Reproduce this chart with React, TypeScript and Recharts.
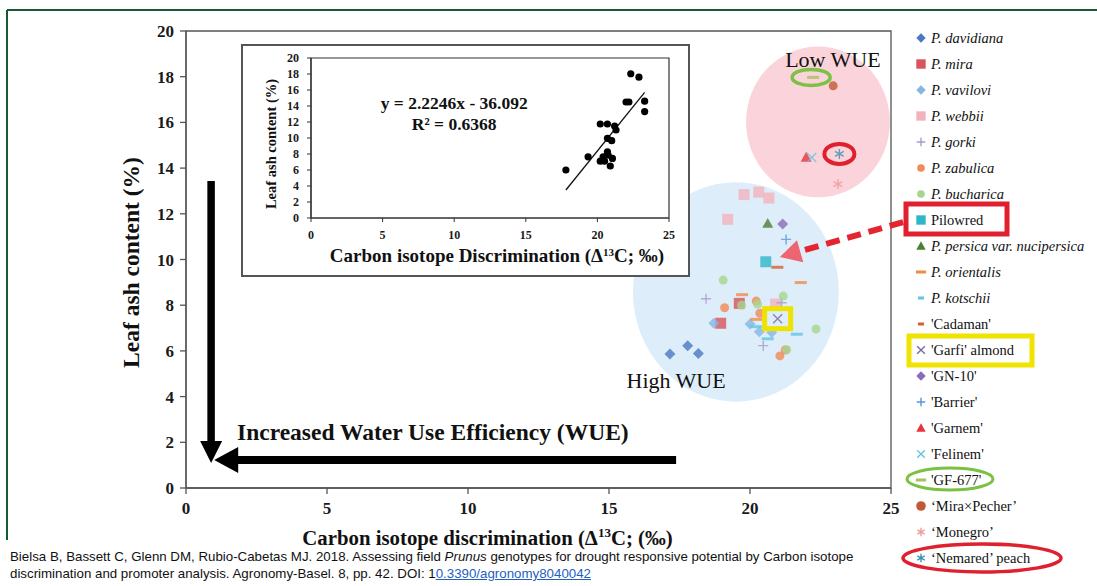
import {
  ReferenceArea,
  ReferenceDot,
  ReferenceLine,
  Scatter,
  ScatterChart,
  XAxis,
  YAxis,
} from "recharts";

type Pt = { x: number; y: number };
type Kind = "diamond" | "square" | "circle" | "triangle" | "plus" | "cross" | "dash" | "star";

const SERIF = "'Liberation Serif', 'Times New Roman', serif";
const SANS = "'Liberation Sans', Arial, sans-serif";

const W = 1097;
const H = 586;
// pixels per data unit in the main plot (705px for 25 units, 457px for 20 units)
const PX_X = 705 / 25;
const PX_Y = 457 / 20;

const xTicks = [0, 5, 10, 15, 20, 25];
const yTicks = [0, 2, 4, 6, 8, 10, 12, 14, 16, 18, 20];

// main scatter
const davidiana: Pt[] = [{ x: 17.16, y: 5.86 }, { x: 17.79, y: 6.23 }, { x: 18.17, y: 5.89 }];
const mira: Pt[] = [{ x: 19.62, y: 8.08 }, { x: 18.96, y: 7.21 }];
const vavilovi: Pt[] = [{ x: 18.72, y: 7.21 }, { x: 20.0, y: 7.18 }, { x: 20.33, y: 6.84 }, { x: 20.77, y: 6.8 }];
const webbii: Pt[] = [
  { x: 19.79, y: 12.84 }, { x: 20.31, y: 12.95 }, { x: 20.67, y: 12.69 }, { x: 19.21, y: 11.76 }, { x: 20.91, y: 8.05 },
];
const gorki: Pt[] = [{ x: 18.44, y: 8.28 }, { x: 21.12, y: 8.11 }, { x: 20.47, y: 6.23 }];
const zabulica: Pt[] = [
  { x: 19.1, y: 7.89 }, { x: 20.22, y: 8.18 }, { x: 20.35, y: 7.65 }, { x: 21.25, y: 6.04 }, { x: 21.06, y: 5.78 },
];
const bucharica: Pt[] = [
  { x: 19.05, y: 9.1 }, { x: 19.7, y: 8.0 }, { x: 20.27, y: 8.05 }, { x: 21.18, y: 8.4 }, { x: 22.34, y: 6.96 }, { x: 21.3, y: 6.05 },
];
const pilowred: Pt[] = [{ x: 20.56, y: 9.9 }];
const nucipersica: Pt[] = [{ x: 20.63, y: 11.58 }];
const orientalis: Pt[] = [{ x: 21.8, y: 8.99 }, { x: 19.72, y: 8.46 }, { x: 20.22, y: 7.38 }];
const kotschii: Pt[] = [{ x: 20.21, y: 7.06 }, { x: 20.63, y: 6.53 }, { x: 21.66, y: 6.73 }];
const cadaman: Pt[] = [{ x: 20.97, y: 9.66 }];
const garfi: Pt[] = [{ x: 20.98, y: 7.41 }];
const gn10: Pt[] = [{ x: 21.16, y: 11.55 }];
const barrier: Pt[] = [{ x: 21.28, y: 10.88 }];
const garnem: Pt[] = [{ x: 21.99, y: 14.47 }];
const felinem: Pt[] = [{ x: 22.19, y: 14.46 }];
const gf677: Pt[] = [{ x: 22.24, y: 17.97 }];
const miraPecher: Pt[] = [{ x: 22.95, y: 17.6 }];
const monegro: Pt[] = [{ x: 23.12, y: 13.3 }];
const nemared: Pt[] = [{ x: 23.17, y: 14.62 }];

// inset: pooled points and the fitted line as drawn
const insetPoints: Pt[] = [
  { x: 22.33, y: 18.03 }, { x: 22.9, y: 17.6 }, { x: 22.0, y: 14.5 }, { x: 22.2, y: 14.5 }, { x: 23.3, y: 14.6 },
  { x: 23.3, y: 13.3 }, { x: 20.2, y: 11.75 }, { x: 20.7, y: 11.75 }, { x: 21.2, y: 11.5 }, { x: 21.3, y: 11.0 },
  { x: 20.7, y: 9.96 }, { x: 21.0, y: 9.66 }, { x: 19.35, y: 7.65 }, { x: 20.7, y: 8.28 }, { x: 20.75, y: 7.87 },
  { x: 20.4, y: 7.65 }, { x: 20.2, y: 7.1 }, { x: 20.5, y: 7.1 }, { x: 21.05, y: 7.45 }, { x: 20.9, y: 6.5 },
  { x: 17.8, y: 6.0 },
];
const trendLine: Pt[] = [{ x: 17.8, y: 3.5 }, { x: 23.3, y: 15.7 }];

// annotation anchors (data units)
const lowWueCenter: Pt = { x: 22.41, y: 16.02 };
const highWueCenter: Pt = { x: 19.5, y: 8.58 };
const lowWueText: Pt = { x: 22.94, y: 18.42 };
const highWueText: Pt = { x: 17.38, y: 4.38 };
const wueText: Pt = { x: 1.81, y: 2.1 };
const downArrow: Pt[] = [{ x: 0.89, y: 13.44 }, { x: 0.89, y: 1.09 }];
const leftArrow: Pt[] = [{ x: 17.38, y: 1.23 }, { x: 1.0, y: 1.23 }];
const pilowredArrowTail: Pt = { x: 25.43, y: 11.64 };
const pilowredArrowTip: Pt = { x: 21.06, y: 10.11 };
const equationAnchor: Pt = { x: 10.0, y: 14.1 };

interface Series {
  name: string;
  italic: boolean;
  data: Pt[];
  color: string;
  kind: Kind;
  legendSize?: number;
}

const series: Series[] = [
  { name: "P. davidiana", italic: true, data: davidiana, color: "#4A78C2", kind: "diamond" },
  { name: "P. mira", italic: true, data: mira, color: "#D9535B", kind: "square" },
  { name: "P. vavilovi", italic: true, data: vavilovi, color: "#86B6E3", kind: "diamond" },
  { name: "P. webbii", italic: true, data: webbii, color: "#F2B3BC", kind: "square" },
  { name: "P. gorki", italic: true, data: gorki, color: "#A99BCB", kind: "plus" },
  { name: "P. zabulica", italic: true, data: zabulica, color: "#F28A55", kind: "circle" },
  { name: "P. bucharica", italic: true, data: bucharica, color: "#A8D48F", kind: "circle" },
  { name: "Pilowred", italic: false, data: pilowred, color: "#2FB6C9", kind: "square" },
  { name: "P. persica var. nucipersica", italic: true, data: nucipersica, color: "#4F7D33", kind: "triangle" },
  { name: "P. orientalis", italic: true, data: orientalis, color: "#F4894E", kind: "dash" },
  { name: "P. kotschii", italic: true, data: kotschii, color: "#67C4E4", kind: "dash", legendSize: 0.6 },
  { name: "'Cadaman'", italic: false, data: cadaman, color: "#D4622D", kind: "dash", legendSize: 0.6 },
  { name: "'Garfi' almond", italic: false, data: garfi, color: "#7C68A6", kind: "cross" },
  { name: "'GN-10'", italic: false, data: gn10, color: "#8B6BB5", kind: "diamond" },
  { name: "'Barrier'", italic: false, data: barrier, color: "#5C93DA", kind: "plus" },
  { name: "'Garnem'", italic: false, data: garnem, color: "#E4343E", kind: "triangle" },
  { name: "'Felinem'", italic: false, data: felinem, color: "#64C6DE", kind: "cross" },
  { name: "'GF-677'", italic: false, data: gf677, color: "#A4C262", kind: "dash" },
  { name: "\u2018Mira\u00d7Pecher\u2019", italic: false, data: miraPecher, color: "#C15A33", kind: "circle", legendSize: 1.25 },
  { name: "\u2018Monegro\u2019", italic: false, data: monegro, color: "#F19A9A", kind: "star" },
  { name: "\u2018Nemared\u2019 peach", italic: false, data: nemared, color: "#3A93AE", kind: "star" },
];

function Marker({
  kind,
  cx,
  cy,
  color,
  size = 1,
  opacity = 1,
}: {
  kind: Kind;
  cx: number;
  cy: number;
  color: string;
  size?: number;
  opacity?: number;
}) {
  const s = size;
  switch (kind) {
    case "diamond": {
      const d = 5.5 * s;
      return (
        <polygon
          points={`${cx},${cy - d} ${cx + d},${cy} ${cx},${cy + d} ${cx - d},${cy}`}
          fill={color}
          opacity={opacity}
        />
      );
    }
    case "square": {
      const h = 5.5 * s;
      return <rect x={cx - h} y={cy - h} width={2 * h} height={2 * h} fill={color} opacity={opacity} />;
    }
    case "circle":
      return <circle cx={cx} cy={cy} r={4.5 * s} fill={color} opacity={opacity} />;
    case "triangle": {
      const h = 5.5 * s;
      return (
        <polygon
          points={`${cx},${cy - h} ${cx + h},${cy + h * 0.8} ${cx - h},${cy + h * 0.8}`}
          fill={color}
          opacity={opacity}
        />
      );
    }
    case "plus": {
      const h = 5 * s;
      return (
        <path d={`M${cx - h},${cy}H${cx + h}M${cx},${cy - h}V${cy + h}`} stroke={color} strokeWidth={1.4} opacity={opacity} />
      );
    }
    case "cross": {
      const h = 4.5 * s;
      return (
        <path
          d={`M${cx - h},${cy - h}L${cx + h},${cy + h}M${cx - h},${cy + h}L${cx + h},${cy - h}`}
          stroke={color}
          strokeWidth={1.4}
          opacity={opacity}
        />
      );
    }
    case "dash": {
      const w = 6 * s;
      return <rect x={cx - w} y={cy - 1.5} width={2 * w} height={3} fill={color} opacity={opacity} />;
    }
    case "star": {
      const h = 5 * s;
      const a = h * 0.87;
      const b = h * 0.5;
      return (
        <path
          d={`M${cx},${cy - h}V${cy + h}M${cx - a},${cy - b}L${cx + a},${cy + b}M${cx - a},${cy + b}L${cx + a},${cy - b}`}
          stroke={color}
          strokeWidth={1.4}
          opacity={opacity}
        />
      );
    }
  }
  return null;
}

function drawArrow(
  x1: number,
  y1: number,
  x2: number,
  y2: number,
  shaft: number,
  headLen: number,
  headW: number,
  color: string,
  headColor: string,
  dash?: string,
) {
  const dx = x2 - x1;
  const dy = y2 - y1;
  const len = Math.hypot(dx, dy) || 1;
  const ux = dx / len;
  const uy = dy / len;
  const nx = -uy;
  const ny = ux;
  const bx = x2 - ux * headLen;
  const by = y2 - uy * headLen;
  return (
    <g>
      <line x1={x1} y1={y1} x2={bx + ux * 2} y2={by + uy * 2} stroke={color} strokeWidth={shaft} strokeDasharray={dash} />
      <polygon
        points={`${x2},${y2} ${bx + (nx * headW) / 2},${by + (ny * headW) / 2} ${bx - (nx * headW) / 2},${by - (ny * headW) / 2}`}
        fill={headColor}
      />
    </g>
  );
}

function arrowShape(shaft: number, headLen: number, headW: number, color: string) {
  return (p: any) => drawArrow(p.x1, p.y1, p.x2, p.y2, shaft, headLen, headW, color, color);
}

const mainTick = { fontFamily: SERIF, fontSize: 17, fontWeight: 700, fill: "#1a1a1a" };

function MainChart() {
  return (
    <ScatterChart width={W} height={H} margin={{ top: 31, right: 206, bottom: 68, left: 126 }}>
      <XAxis
        type="number"
        dataKey="x"
        domain={[0, 25]}
        ticks={xTicks}
        interval={0}
        height={30}
        tickSize={6}
        tickMargin={8}
        axisLine={{ stroke: "#555", strokeWidth: 1.3 }}
        tickLine={{ stroke: "#555", strokeWidth: 1.3 }}
        tick={mainTick}
        label={(p: any) => {
          const vb = p?.viewBox ?? { x: 186, y: 488, width: 705 };
          return (
            <text
              x={vb.x + vb.width / 2 - 51}
              y={vb.y + 57}
              textAnchor="middle"
              fontFamily={SERIF}
              fontSize={20.8}
              fontWeight={700}
              fill="#111"
            >
              Carbon isotope discrimination (Δ
              <tspan dy={-8} fontSize={13}>13</tspan>
              <tspan dy={8}>C; (‰)</tspan>
            </text>
          );
        }}
      />
      <YAxis
        type="number"
        dataKey="y"
        domain={[0, 20]}
        ticks={yTicks}
        interval={0}
        width={60}
        tickSize={6}
        tickMargin={6}
        axisLine={{ stroke: "#555", strokeWidth: 1.3 }}
        tickLine={{ stroke: "#555", strokeWidth: 1.3 }}
        tick={mainTick}
        label={(p: any) => {
          const vb = p?.viewBox ?? { x: 126, y: 31, height: 457 };
          const cx = vb.x + 13;
          const cy = vb.y + vb.height / 2 + 3;
          return (
            <text
              x={cx}
              y={cy}
              transform={`rotate(-90 ${cx} ${cy})`}
              textAnchor="middle"
              fontFamily={SERIF}
              fontSize={23.5}
              fontWeight={700}
              fill="#111"
            >
              Leaf ash content (%)
            </text>
          );
        }}
      />
      <ReferenceArea x1={0} x2={25} y1={0} y2={20} fill="none" stroke="#555" strokeWidth={1.3} ifOverflow="visible" />

      <Scatter
        name="low-wue-region"
        data={[lowWueCenter]}
        legendType="none"
        isAnimationActive={false}
        shape={(p: any) => <ellipse cx={p.cx} cy={p.cy} rx={2.55 * PX_X} ry={3.3 * PX_Y} fill="#FAD4DA" />}
      />
      <Scatter
        name="high-wue-region"
        data={[highWueCenter]}
        legendType="none"
        isAnimationActive={false}
        shape={(p: any) => <ellipse cx={p.cx} cy={p.cy} rx={3.65 * PX_X} ry={4.8 * PX_Y} fill="#DDEEFA" />}
      />

      <ReferenceLine segment={downArrow} ifOverflow="visible" shape={arrowShape(7.5, 22, 22, "#000")} />
      <ReferenceLine segment={leftArrow} ifOverflow="visible" shape={arrowShape(8, 24, 26, "#000")} />

      <ReferenceDot
        x={wueText.x}
        y={wueText.y}
        ifOverflow="visible"
        shape={(p: any) => (
          <text x={p.cx} y={p.cy} fontFamily={SERIF} fontSize={23.5} fontWeight={700} fill="#111">
            Increased Water Use Efficiency (WUE)
          </text>
        )}
      />
      <ReferenceDot
        x={lowWueText.x}
        y={lowWueText.y}
        ifOverflow="visible"
        shape={(p: any) => (
          <text x={p.cx} y={p.cy} textAnchor="middle" fontFamily={SERIF} fontSize={22} fill="#111">
            Low WUE
          </text>
        )}
      />
      <ReferenceDot
        x={highWueText.x}
        y={highWueText.y}
        ifOverflow="visible"
        shape={(p: any) => (
          <text x={p.cx} y={p.cy} textAnchor="middle" fontFamily={SERIF} fontSize={22} fill="#111">
            High WUE
          </text>
        )}
      />

      {series.map((s) => (
        <Scatter
          key={s.name}
          name={s.name}
          data={s.data}
          fill={s.color}
          isAnimationActive={false}
          shape={(p: any) => <Marker kind={s.kind} cx={p.cx} cy={p.cy} color={s.color} opacity={0.8} />}
        />
      ))}

      {/* dashed pointer from the Pilowred legend entry, drawn above the regions */}
      <Scatter
        name="pilowred-pointer"
        data={[pilowredArrowTip]}
        legendType="none"
        isAnimationActive={false}
        shape={(p: any) =>
          drawArrow(
            p.cx + (pilowredArrowTail.x - pilowredArrowTip.x) * PX_X,
            p.cy - (pilowredArrowTail.y - pilowredArrowTip.y) * PX_Y,
            p.cx,
            p.cy,
            6,
            21,
            23,
            "#E3252F",
            "#EC6570",
            "14 8",
          )
        }
      />

      <ReferenceDot
        x={gf677[0].x}
        y={gf677[0].y}
        ifOverflow="visible"
        shape={(p: any) => (
          <ellipse cx={p.cx - 2} cy={p.cy} rx={19} ry={8} fill="none" stroke="#7BC143" strokeWidth={3.5} />
        )}
      />
      <ReferenceDot
        x={nemared[0].x}
        y={nemared[0].y}
        ifOverflow="visible"
        shape={(p: any) => (
          <ellipse cx={p.cx} cy={p.cy} rx={15} ry={10} fill="none" stroke="#E0202E" strokeWidth={4} />
        )}
      />
      <ReferenceDot
        x={garfi[0].x}
        y={garfi[0].y}
        ifOverflow="visible"
        shape={(p: any) => (
          <rect x={p.cx - 13} y={p.cy - 10} width={26} height={20} fill="none" stroke="#EEE200" strokeWidth={5} />
        )}
      />
    </ScatterChart>
  );
}

const insetTick = { fontFamily: SERIF, fontSize: 12, fontWeight: 700, fill: "#1a1a1a" };

function InsetChart() {
  return (
    <div
      style={{
        position: "absolute",
        left: 241,
        top: 44,
        width: 449,
        height: 233,
        boxSizing: "border-box",
        border: "2px solid #555",
        background: "#fff",
      }}
    >
      <ScatterChart width={445} height={229} margin={{ top: 12, right: 19, bottom: 32, left: 28 }}>
        <XAxis
          type="number"
          dataKey="x"
          domain={[0, 25]}
          ticks={xTicks}
          interval={0}
          height={25}
          tickSize={4}
          tickMargin={8}
          axisLine={{ stroke: "#333", strokeWidth: 1.2 }}
          tickLine={{ stroke: "#333" }}
          tick={insetTick}
          label={(p: any) => {
            const vb = p?.viewBox ?? { x: 68, y: 172, width: 358 };
            return (
              <text
                x={vb.x + vb.width / 2 + 7}
                y={vb.y + 44}
                textAnchor="middle"
                fontFamily={SERIF}
                fontSize={19}
                fontWeight={700}
                fill="#111"
              >
                Carbon isotope Discrimination (Δ
                <tspan dy={-6} fontSize={11}>13</tspan>
                <tspan dy={6}>C; ‰)</tspan>
              </text>
            );
          }}
        />
        <YAxis
          type="number"
          dataKey="y"
          domain={[0, 20]}
          ticks={yTicks}
          interval={0}
          width={40}
          tickSize={4}
          tickMargin={8}
          axisLine={{ stroke: "#333", strokeWidth: 1.2 }}
          tickLine={{ stroke: "#333" }}
          tick={insetTick}
          label={(p: any) => {
            const vb = p?.viewBox ?? { x: 28, y: 12, height: 160 };
            const cx = vb.x + 5;
            const cy = vb.y + vb.height / 2 + 6;
            return (
              <text
                x={cx}
                y={cy}
                transform={`rotate(-90 ${cx} ${cy})`}
                textAnchor="middle"
                fontFamily={SERIF}
                fontSize={14.5}
                fontWeight={700}
                fill="#111"
              >
                Leaf ash content (%)
              </text>
            );
          }}
        />
        <ReferenceArea x1={0} x2={25} y1={0} y2={20} fill="none" stroke="#333" strokeWidth={1.2} ifOverflow="visible" />
        <ReferenceLine segment={trendLine} stroke="#111" strokeWidth={1.3} ifOverflow="visible" />
        <Scatter
          name="pooled"
          data={insetPoints}
          fill="#000"
          isAnimationActive={false}
          shape={(p: any) => <circle cx={p.cx} cy={p.cy} r={3.6} fill="#000" />}
        />
        <ReferenceDot
          x={equationAnchor.x}
          y={equationAnchor.y}
          ifOverflow="visible"
          shape={(p: any) => (
            <g fontFamily={SERIF} fontWeight={700} fill="#111" textAnchor="middle">
              <text x={p.cx} y={p.cy + 4} fontSize={17.5}>
                y = 2.2246x - 36.092
              </text>
              <text x={p.cx} y={p.cy + 25} fontSize={17.5}>
                R² = 0.6368
              </text>
            </g>
          )}
        />
      </ScatterChart>
    </div>
  );
}

function LegendPanel() {
  return (
    <svg width={W} height={H} style={{ position: "absolute", left: 0, top: 0, pointerEvents: "none" }}>
      <line x1={7} y1={10} x2={W} y2={10} stroke="#165A35" strokeWidth={2} />
      <line x1={7} y1={10} x2={7} y2={540} stroke="#165A35" strokeWidth={2} />
      {series.map((s, i) => {
        const y = 38 + 26 * i;
        return (
          <g key={s.name}>
            <Marker kind={s.kind} cx={921} cy={y} color={s.color} size={(s.legendSize ?? 1) * 0.85} />
            <text
              x={931}
              y={y + 5}
              fontFamily={SERIF}
              fontSize={14.5}
              fontStyle={s.italic ? "italic" : "normal"}
              fill="#111"
            >
              {s.name}
            </text>
          </g>
        );
      })}
      <rect x={906} y={204} width={101} height={30} fill="none" stroke="#E0202E" strokeWidth={5} />
      <rect x={909} y={336} width={123} height={29} fill="none" stroke="#F0E300" strokeWidth={5} />
      <ellipse cx={950} cy={479} rx={43} ry={11} fill="none" stroke="#7BC143" strokeWidth={3} />
      <ellipse cx={982} cy={558} rx={79} ry={14} fill="none" stroke="#E0202E" strokeWidth={3.5} />
    </svg>
  );
}

function Caption() {
  return (
    <div
      style={{
        position: "absolute",
        left: 10,
        top: 548,
        width: 900,
        fontFamily: SANS,
        fontSize: 13.3,
        lineHeight: "17px",
        color: "#111",
        whiteSpace: "nowrap",
      }}
    >
      Bielsa B, Bassett C, Glenn DM, Rubio-Cabetas MJ. 2018. Assessing field <i>Prunus</i> genotypes for drought
      responsive potential by Carbon isotope
      <br />
      discrimination and promoter analysis. Agronomy-Basel. 8, pp. 42. DOI: 1
      <span style={{ color: "#1F5FBF", textDecoration: "underline" }}>0.3390/agronomy8040042</span>
    </div>
  );
}

export default function App() {
  return (
    <div style={{ position: "relative", width: W, height: H, background: "#fff", overflow: "hidden" }}>
      <style>{"body{margin:0}"}</style>
      <div style={{ position: "absolute", left: 0, top: 0 }}>
        <MainChart />
      </div>
      <InsetChart />
      <LegendPanel />
      <Caption />
    </div>
  );
}
